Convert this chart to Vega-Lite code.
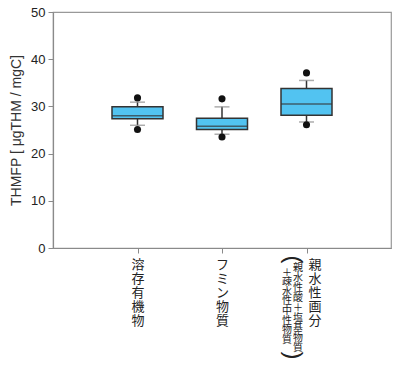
{
  "$schema": "https://vega.github.io/schema/vega-lite/v6.json",
  "width": 338,
  "height": 236,
  "autosize": {"type": "none"},
  "padding": {"left": 53, "top": 12, "right": 9, "bottom": 122},
  "background": "white",
  "config": {
    "view": {"stroke": "#999999", "strokeWidth": 1.2},
    "axis": {"grid": false, "domainColor": "#8a8a8a", "tickColor": "#8a8a8a", "labelColor": "#222222", "titleColor": "#333333"}
  },
  "data": {
    "values": [
      {"cat": "溶存有機物", "lo_out": 25.1, "lower": 26.0, "q1": 27.4, "median": 28.0, "q3": 29.9, "upper": 30.9, "hi_out": 31.8},
      {"cat": "フミン物質", "lo_out": 23.5, "lower": 24.1, "q1": 25.1, "median": 25.8, "q3": 27.5, "upper": 29.9, "hi_out": 31.6},
      {"cat": "親水性画分", "lo_out": 26.1, "lower": 26.7, "q1": 28.1, "median": 30.5, "q3": 33.8, "upper": 35.5, "hi_out": 37.1}
    ]
  },
  "resolve": {"axis": {"x": "independent"}},
  "layer": [
    {
      "encoding": {
        "x": {
          "field": "cat", "type": "nominal", "sort": null,
          "scale": {"type": "point", "padding": 1},
          "axis": {
            "orient": "bottom",
            "title": null, "labelAngle": 0, "labelBaseline": "top", "labelAlign": "center",
            "labelFont": "Noto Sans CJK JP", "labelFontSize": 13, "labelLineHeight": 14,
            "labelPadding": 5, "tickSize": 5, "domainWidth": 1.2,
            "labelExpr": "split(datum.label, '')",
            "labelOffset": {"condition": {"test": "datum.value === '親水性画分'", "value": 8}, "value": 0}
          }
        }
      },
      "layer": [
        {
          "mark": {"type": "rule", "color": "#333333", "strokeWidth": 1.5},
          "encoding": {
            "y": {"field": "lower", "type": "quantitative", "scale": {"domain": [0, 50]},
              "axis": {"values": [0, 10, 20, 30, 40, 50], "title": "THMFP [ μgTHM / mgC]", "titleFont": "Liberation Sans", "titleFontSize": 14, "titleFontWeight": "normal", "titlePadding": 7, "labelFont": "Liberation Sans", "labelFontSize": 13, "labelPadding": 3, "tickSize": 5, "domainWidth": 1.2}},
            "y2": {"field": "upper"}
          }
        },
        {
          "mark": {"type": "tick", "color": "#8a8a8a", "thickness": 1.5, "size": 15},
          "encoding": {"y": {"field": "lower", "type": "quantitative"}}
        },
        {
          "mark": {"type": "tick", "color": "#8a8a8a", "thickness": 1.5, "size": 15},
          "encoding": {"y": {"field": "upper", "type": "quantitative"}}
        },
        {
          "mark": {"type": "bar", "fill": "#52c3f1", "stroke": "#333333", "strokeWidth": 1.5, "size": 51},
          "encoding": {"y": {"field": "q1", "type": "quantitative"}, "y2": {"field": "q3"}}
        },
        {
          "mark": {"type": "tick", "color": "#333333", "thickness": 1.5, "size": 51},
          "encoding": {"y": {"field": "median", "type": "quantitative"}}
        },
        {
          "mark": {"type": "point", "filled": true, "color": "#111111", "opacity": 1, "size": 50},
          "encoding": {"y": {"field": "lo_out", "type": "quantitative"}}
        },
        {
          "mark": {"type": "point", "filled": true, "color": "#111111", "opacity": 1, "size": 50},
          "encoding": {"y": {"field": "hi_out", "type": "quantitative"}}
        }
      ]
    },
    {
      "mark": {"type": "point", "opacity": 0},
      "encoding": {
        "x": {"field": "cat", "type": "nominal", "sort": null,
          "axis": {"orient": "bottom", "title": null, "domain": false, "ticks": false, "tickSize": 0, "labelAngle": 0, "labelBaseline": "top", "labelAlign": "center",
            "labelColor": "#222222", "labelFont": "Noto Sans CJK JP", "labelFontSize": 10, "labelLineHeight": 10, "labelPadding": 14, "labelOffset": -9,
            "labelExpr": "datum.value === '親水性画分' ? split('親水性酸＋塩基物質', '') : ''"}}
      }
    },
    {
      "mark": {"type": "point", "opacity": 0},
      "encoding": {
        "x": {"field": "cat", "type": "nominal", "sort": null,
          "axis": {"orient": "bottom", "title": null, "domain": false, "ticks": false, "tickSize": 0, "labelAngle": 0, "labelBaseline": "top", "labelAlign": "center",
            "labelColor": "#222222", "labelFont": "Noto Sans CJK JP", "labelFontSize": 10, "labelLineHeight": 9.6, "labelPadding": 19, "labelOffset": -20,
            "labelExpr": "datum.value === '親水性画分' ? split('＋疎水性中性物質', '') : ''"}}
      }
    },
    {
      "mark": {"type": "point", "opacity": 0},
      "encoding": {
        "x": {"field": "cat", "type": "nominal", "sort": null,
          "axis": {"orient": "bottom", "title": null, "domain": false, "ticks": false, "tickSize": 0, "labelAngle": 90, "labelBaseline": "middle", "labelAlign": "left",
            "labelColor": "#222222", "labelFont": "Liberation Sans", "labelFontSize": 24, "labelPadding": 7, "labelOffset": -14,
            "labelExpr": "datum.value === '親水性画分' ? '(' : ''"}}
      }
    },
    {
      "mark": {"type": "point", "opacity": 0},
      "encoding": {
        "x": {"field": "cat", "type": "nominal", "sort": null,
          "axis": {"orient": "bottom", "title": null, "domain": false, "ticks": false, "tickSize": 0, "labelAngle": 90, "labelBaseline": "middle", "labelAlign": "left",
            "labelColor": "#222222", "labelFont": "Liberation Sans", "labelFontSize": 24, "labelPadding": 103, "labelOffset": -14,
            "labelExpr": "datum.value === '親水性画分' ? ')' : ''"}}
      }
    }
  ]
}
